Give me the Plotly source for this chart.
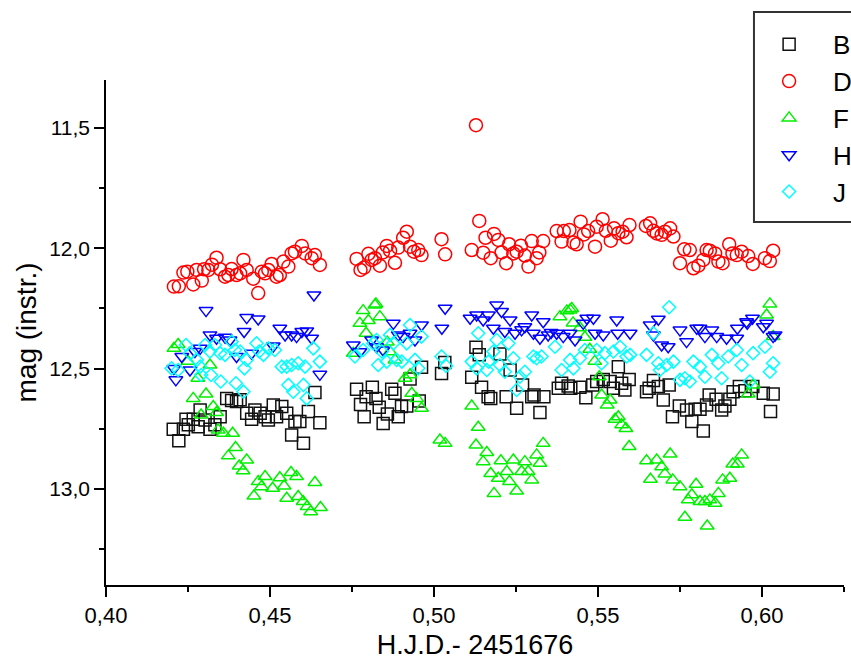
import plotly.graph_objects as go

# Differential photometry, heliocentric Julian date offset by 2451676
b_hjd = [0.4205, 0.4222, 0.4236, 0.4244, 0.4251, 0.4266, 0.4281, 0.4287, 0.4302, 0.4317,
         0.4332, 0.4348, 0.4368, 0.4383, 0.4398, 0.4409, 0.4429, 0.4444, 0.4454, 0.4470,
         0.4485, 0.4495, 0.4510, 0.4520, 0.4536, 0.4551, 0.4566, 0.4576, 0.4591, 0.4602,
         0.4617, 0.4637, 0.4652,
         0.4764, 0.4776, 0.4787, 0.4793, 0.4812, 0.4823, 0.4833, 0.4845, 0.4858, 0.4871,
         0.4881, 0.4891, 0.4901, 0.4917, 0.4927, 0.4955, 0.4962, 0.5023, 0.5033,
         0.5115, 0.5128, 0.5138, 0.5145, 0.5165, 0.5173, 0.5201, 0.5220, 0.5232, 0.5252,
         0.5270, 0.5298, 0.5305, 0.5323, 0.5335, 0.5379, 0.5389, 0.5409, 0.5417, 0.5445,
         0.5463,
         0.5484, 0.5496, 0.5516, 0.5537, 0.5547, 0.5562, 0.5572, 0.5582, 0.5595, 0.5648,
         0.5656, 0.5669, 0.5684, 0.5699, 0.5717, 0.5727, 0.5748, 0.5770, 0.5786, 0.5796,
         0.5811, 0.5821, 0.5831, 0.5839, 0.5860, 0.5877, 0.5887, 0.5902, 0.5912, 0.5931,
         0.5948, 0.5972, 0.6004, 0.6026, 0.6034]
b_mag = [12.752, 12.800, 12.752, 12.711, 12.734, 12.711, 12.742, 12.672, 12.714, 12.752,
         12.734, 12.700, 12.624, 12.633, 12.637, 12.630, 12.686, 12.711, 12.672, 12.686,
         12.700, 12.714, 12.651, 12.700, 12.658, 12.686, 12.776, 12.720, 12.720, 12.811,
         12.679, 12.600, 12.725,
         12.586, 12.649, 12.700, 12.617, 12.578, 12.624, 12.661, 12.728, 12.689, 12.586,
         12.603, 12.700, 12.658, 12.656, 12.543, 12.635, 12.495, 12.520, 12.475,
         12.536, 12.411, 12.443, 12.578, 12.617, 12.624, 12.439, 12.617, 12.506, 12.665,
         12.568, 12.617, 12.610, 12.683, 12.617, 12.582, 12.561, 12.572, 12.582, 12.578,
         12.621,
         12.568, 12.554, 12.545, 12.554, 12.582, 12.492, 12.561, 12.589, 12.545, 12.596,
         12.582, 12.550, 12.575, 12.631, 12.568, 12.700, 12.656, 12.672, 12.720, 12.669,
         12.669, 12.760, 12.651, 12.610, 12.628, 12.672, 12.656, 12.628, 12.596, 12.575,
         12.592, 12.575, 12.603, 12.679, 12.606]

d_hjd = [0.4207, 0.4222, 0.4236, 0.4248, 0.4266, 0.4276, 0.4292, 0.4299, 0.4312, 0.4323,
         0.4337, 0.4348, 0.4363, 0.4373, 0.4383, 0.4398, 0.4409, 0.4419, 0.4429, 0.4449,
         0.4464, 0.4475, 0.4485, 0.4495, 0.4505, 0.4520, 0.4530, 0.4541, 0.4556, 0.4566,
         0.4576, 0.4597, 0.4607, 0.4627, 0.4637, 0.4652,
         0.4764, 0.4776, 0.4787, 0.4800, 0.4810, 0.4820, 0.4835, 0.4844, 0.4856, 0.4866,
         0.4881, 0.4891, 0.4906, 0.4917, 0.4927, 0.4939, 0.4952, 0.4962, 0.5023, 0.5034,
         0.5115, 0.5128, 0.5138, 0.5150, 0.5157, 0.5173, 0.5183, 0.5196, 0.5206, 0.5220,
         0.5229, 0.5242, 0.5252, 0.5265, 0.5277, 0.5288, 0.5298, 0.5313, 0.5321, 0.5333,
         0.5374, 0.5389, 0.5396, 0.5413, 0.5425, 0.5435, 0.5447, 0.5457, 0.5470,
         0.5491, 0.5496, 0.5514, 0.5524, 0.5539, 0.5549, 0.5562, 0.5575, 0.5587, 0.5596,
         0.5646, 0.5659, 0.5669, 0.5679, 0.5694, 0.5704, 0.5720, 0.5730, 0.5750, 0.5763,
         0.5780, 0.5791, 0.5806, 0.5821, 0.5831, 0.5841, 0.5857, 0.5867, 0.5880, 0.5900,
         0.5910, 0.5923, 0.5938, 0.5958, 0.5972, 0.6009, 0.6024, 0.6034]
d_mag = [12.159, 12.158, 12.101, 12.097, 12.150, 12.090, 12.134, 12.087, 12.090, 12.068,
         12.039, 12.087, 12.118, 12.111, 12.086, 12.111, 12.104, 12.048, 12.090, 12.126,
         12.186, 12.097, 12.104, 12.090, 12.065, 12.118, 12.111, 12.055, 12.076, 12.021,
         12.014, 11.990, 12.021, 12.041, 12.028, 12.069,
         12.044, 12.090, 12.080, 12.023, 12.048, 12.041, 12.072, 12.017, 11.990, 12.010,
         12.060, 11.997, 11.956, 11.931, 11.993, 12.014, 12.007, 12.028, 11.962, 12.025,
         12.007, 11.488, 11.886, 12.018, 11.956, 12.041, 11.940, 11.965, 12.017, 12.062,
         11.983, 12.021, 12.014, 11.989, 12.030, 12.076, 11.970, 12.041, 12.017, 11.970,
         11.928, 11.972, 11.928, 11.924, 11.976, 11.983, 11.889, 11.942, 11.928,
         11.993, 11.910, 11.879, 11.927, 11.968, 11.917, 11.937, 11.931, 11.954, 11.903,
         11.907, 11.896, 11.927, 11.938, 11.944, 11.931, 11.917, 11.951, 12.062, 12.004,
         12.007, 12.083, 12.072, 12.048, 12.007, 12.010, 12.021, 12.055, 12.062, 11.983,
         12.021, 12.028, 12.014, 12.032, 12.065, 12.041, 12.053, 12.010]

f_hjd = [0.4207, 0.4220, 0.4250, 0.4266, 0.4280, 0.4290, 0.4305, 0.4317, 0.4327, 0.4337,
         0.4342, 0.4358, 0.4373, 0.4386, 0.4395, 0.4406, 0.4418, 0.4429, 0.4451, 0.4464,
         0.4474, 0.4485, 0.4508, 0.4530, 0.4543, 0.4551, 0.4564, 0.4581, 0.4586, 0.4601,
         0.4613, 0.4624, 0.4637, 0.4654,
         0.4754, 0.4774, 0.4784, 0.4793, 0.4800, 0.4820, 0.4823, 0.4835, 0.4858, 0.4866,
         0.4881, 0.4912, 0.4927, 0.4932, 0.4947, 0.4962, 0.5018, 0.5034,
         0.5115, 0.5128, 0.5135, 0.5150, 0.5161, 0.5173, 0.5183, 0.5196, 0.5204, 0.5222,
         0.5230, 0.5242, 0.5252, 0.5267, 0.5277, 0.5287, 0.5298, 0.5313, 0.5323, 0.5333,
         0.5384, 0.5405, 0.5415, 0.5420, 0.5424, 0.5445, 0.5460, 0.5475, 0.5490,
         0.5504, 0.5511, 0.5528, 0.5537, 0.5552, 0.5562, 0.5572, 0.5585, 0.5595, 0.5648,
         0.5660, 0.5679, 0.5694, 0.5704, 0.5720, 0.5728, 0.5750, 0.5765, 0.5775, 0.5786,
         0.5799, 0.5811, 0.5826, 0.5833, 0.5841, 0.5857, 0.5867, 0.5880, 0.5902, 0.5911,
         0.5925, 0.5938, 0.5958, 0.5973, 0.6014, 0.6024, 0.6034]
f_mag = [12.416, 12.400, 12.470, 12.624, 12.540, 12.693, 12.606, 12.485, 12.658, 12.683,
         12.755, 12.769, 12.863, 12.769, 12.828, 12.905, 12.925, 12.880, 13.030, 12.970,
         12.991, 12.949, 12.998, 12.954, 12.988, 13.039, 12.932, 12.949, 13.032, 13.053,
         13.074, 13.095, 12.974, 13.078,
         12.436, 12.312, 12.259, 12.353, 12.300, 12.236, 12.231, 12.284, 12.390, 12.430,
         12.464, 12.540, 12.526, 12.603, 12.624, 12.665, 12.797, 12.811,
         12.656, 12.818, 12.744, 12.887, 12.849, 12.936, 13.019, 12.956, 12.883, 12.928,
         12.970, 12.880, 13.009, 12.928, 12.887, 12.928, 12.963, 12.859, 12.894, 12.811,
         12.284, 12.260, 12.256, 12.250, 12.310, 12.330, 12.370, 12.420, 12.470,
         12.534, 12.610, 12.651, 12.631, 12.711, 12.700, 12.734, 12.749, 12.824, 12.883,
         12.960, 12.880, 12.908, 12.938, 12.855, 12.963, 12.991, 13.118, 13.046, 13.025,
         12.981, 13.053, 13.053, 13.155, 13.046, 13.060, 13.019, 12.963, 12.956, 12.897,
         12.897, 12.859, 12.606, 12.568, 12.277, 12.231, 12.367]

h_hjd = [0.4207, 0.4213, 0.4231, 0.4256, 0.4271, 0.4287, 0.4305, 0.4317, 0.4337, 0.4363,
         0.4378, 0.4398, 0.4421, 0.4429, 0.4444, 0.4464, 0.4510, 0.4530, 0.4546, 0.4566,
         0.4581, 0.4597, 0.4612, 0.4627, 0.4634, 0.4652,
         0.4754, 0.4774, 0.4810, 0.4825, 0.4845, 0.4876, 0.4891, 0.4906, 0.4927, 0.4942,
         0.4962, 0.5024, 0.5034,
         0.5110, 0.5130, 0.5150, 0.5166, 0.5181, 0.5191, 0.5206, 0.5216, 0.5232, 0.5247,
         0.5267, 0.5277, 0.5298, 0.5303, 0.5323, 0.5333, 0.5348, 0.5357, 0.5374, 0.5394,
         0.5415, 0.5430, 0.5455, 0.5466,
         0.5486, 0.5491, 0.5516, 0.5557, 0.5560, 0.5598, 0.5659, 0.5669, 0.5684, 0.5694,
         0.5714, 0.5750, 0.5770, 0.5801, 0.5811, 0.5826, 0.5847, 0.5862, 0.5892, 0.5923,
         0.5925, 0.5953, 0.5955, 0.5971, 0.6004, 0.6014, 0.6034, 0.6040]
h_mag = [12.500, 12.547, 12.450, 12.506, 12.429, 12.416, 12.259, 12.360, 12.374, 12.370,
         12.381, 12.450, 12.346, 12.288, 12.436, 12.294, 12.406, 12.332, 12.360, 12.360,
         12.367, 12.346, 12.344, 12.374, 12.194, 12.524,
         12.402, 12.430, 12.381, 12.409, 12.423, 12.312, 12.360, 12.367, 12.353, 12.381,
         12.319, 12.332, 12.249,
         12.291, 12.277, 12.298, 12.277, 12.332, 12.236, 12.263, 12.346, 12.298, 12.353,
         12.339, 12.326, 12.277, 12.353, 12.374, 12.305, 12.360, 12.350, 12.353, 12.367,
         12.353, 12.381, 12.312, 12.291,
         12.291, 12.353, 12.360, 12.298, 12.353, 12.353, 12.319, 12.360, 12.295, 12.402,
         12.409, 12.340, 12.388, 12.332, 12.332, 12.367, 12.340, 12.367, 12.374, 12.374,
         12.332, 12.305, 12.312, 12.291, 12.326, 12.312, 12.367, 12.360]

j_hjd = [0.4200, 0.4220, 0.4244, 0.4256, 0.4277, 0.4287, 0.4290, 0.4302, 0.4317, 0.4320,
         0.4332, 0.4348, 0.4350, 0.4363, 0.4383, 0.4393, 0.4396, 0.4409, 0.4419, 0.4422,
         0.4429, 0.4459, 0.4467, 0.4480, 0.4495, 0.4515, 0.4536, 0.4551, 0.4556, 0.4566,
         0.4571, 0.4586, 0.4602, 0.4607, 0.4612, 0.4632, 0.4652,
         0.4759, 0.4784, 0.4815, 0.4825, 0.4830, 0.4841, 0.4856, 0.4866, 0.4876, 0.4886,
         0.4902, 0.4917, 0.4927, 0.4942, 0.4952, 0.4962, 0.5023, 0.5037,
         0.5115, 0.5130, 0.5135, 0.5161, 0.5166, 0.5181, 0.5191, 0.5201, 0.5216, 0.5227,
         0.5242, 0.5252, 0.5262, 0.5277, 0.5303, 0.5313, 0.5328, 0.5369, 0.5389, 0.5415,
         0.5425, 0.5445, 0.5460,
         0.5496, 0.5511, 0.5521, 0.5547, 0.5567, 0.5587, 0.5598, 0.5648, 0.5669, 0.5684,
         0.5689, 0.5709, 0.5717, 0.5730, 0.5750, 0.5765, 0.5780, 0.5791, 0.5811, 0.5826,
         0.5847, 0.5867, 0.5877, 0.5897, 0.5923, 0.5938, 0.5963, 0.5973, 0.6009, 0.6024,
         0.6034]
j_mag = [12.499, 12.506, 12.402, 12.436, 12.464, 12.492, 12.527, 12.402, 12.429, 12.527,
         12.402, 12.436, 12.554, 12.443, 12.388, 12.423, 12.561, 12.429, 12.596, 12.499,
         12.464, 12.395, 12.429, 12.443, 12.416, 12.423, 12.492, 12.492, 12.568, 12.485,
         12.596, 12.478, 12.568, 12.492, 12.624, 12.416, 12.471,
         12.450, 12.423, 12.395, 12.381, 12.485, 12.429, 12.471, 12.360, 12.395, 12.464,
         12.471, 12.395, 12.319, 12.464, 12.499, 12.367, 12.450, 12.489,
         12.471, 12.499, 12.353, 12.506, 12.471, 12.429, 12.381, 12.485, 12.513, 12.395,
         12.457, 12.589, 12.534, 12.513, 12.450, 12.457, 12.450, 12.409, 12.506, 12.464,
         12.499, 12.457, 12.423,
         12.423, 12.478, 12.436, 12.429, 12.409, 12.450, 12.443, 12.443, 12.353, 12.478,
         12.506, 12.485, 12.245, 12.471, 12.547, 12.540, 12.554, 12.471, 12.492, 12.534,
         12.443, 12.478, 12.540, 12.450, 12.423, 12.485, 12.554, 12.436, 12.409, 12.513,
         12.478]

series = [
    ("B", b_hjd, b_mag, "square-open", 12, "#111111"),
    ("D", d_hjd, d_mag, "circle-open", 13, "#ff0000"),
    ("F", f_hjd, f_mag, "triangle-up-open", 12, "#00f000"),
    ("H", h_hjd, h_mag, "triangle-down-open", 12, "#0000ff"),
    ("J", j_hjd, j_mag, "diamond-open", 10, "#00ffff"),
]

fig = go.Figure()
for name, xs, ys, symbol, size, color in series:
    fig.add_trace(go.Scatter(
        x=xs, y=ys, mode="markers", name=name,
        marker=dict(symbol=symbol, size=size, color=color,
                    line=dict(color=color, width=1.5)),
    ))

regular = "Liberation Sans, Arial, sans-serif"

# Legend frame drawn as a paper-anchored rectangle; it runs off the right edge
fig.add_shape(type="rect", xref="paper", yref="paper",
              x0=0.878, x1=1.3, y0=0.7188, y1=1.1347,
              line=dict(color="#333333", width=2), fillcolor="rgba(0,0,0,0)",
              layer="above")

fig.update_layout(
    width=851, height=660,
    margin=dict(l=106, r=7, t=80, b=75, autoexpand=False),
    paper_bgcolor="white", plot_bgcolor="white",
    separators=",.",
    font=dict(family=regular, color="black"),
    showlegend=True,
    legend=dict(
        x=0.866, y=1.117, xanchor="left", yanchor="top",
        borderwidth=0, bgcolor="rgba(0,0,0,0)",
        font=dict(family=regular, size=26, color="black"),
        itemwidth=78, tracegroupgap=0,
    ),
    xaxis=dict(
        range=[0.40, 0.625], autorange=False,
        tick0=0.40, dtick=0.05, tickformat=".2f",
        ticks="outside", ticklen=10, tickwidth=1.5, tickcolor="black",
        minor=dict(dtick=0.025, tick0=0.40, ticks="outside", ticklen=5,
                   tickwidth=1.5, tickcolor="black", showgrid=False),
        showline=True, linecolor="black", linewidth=1.5,
        showgrid=False, zeroline=False,
        tickfont=dict(family=regular, size=22),
        title=dict(text="H.J.D.- 2451676", font=dict(family=regular, size=27),
                   standoff=16),
    ),
    yaxis=dict(
        range=[13.4, 11.3], autorange=False,
        tick0=11.5, dtick=0.5, tickformat=".1f",
        ticks="outside", ticklen=10, tickwidth=1.5, tickcolor="black",
        minor=dict(dtick=0.25, tick0=11.5, ticks="outside", ticklen=5,
                   tickwidth=1.5, tickcolor="black", showgrid=False),
        showline=True, linecolor="black", linewidth=1.5,
        showgrid=False, zeroline=False,
        tickfont=dict(family=regular, size=21),
        title=dict(text="mag (instr.)", font=dict(family=regular, size=28),
                   standoff=4),
    ),
)

fig.write_html("out.html")
